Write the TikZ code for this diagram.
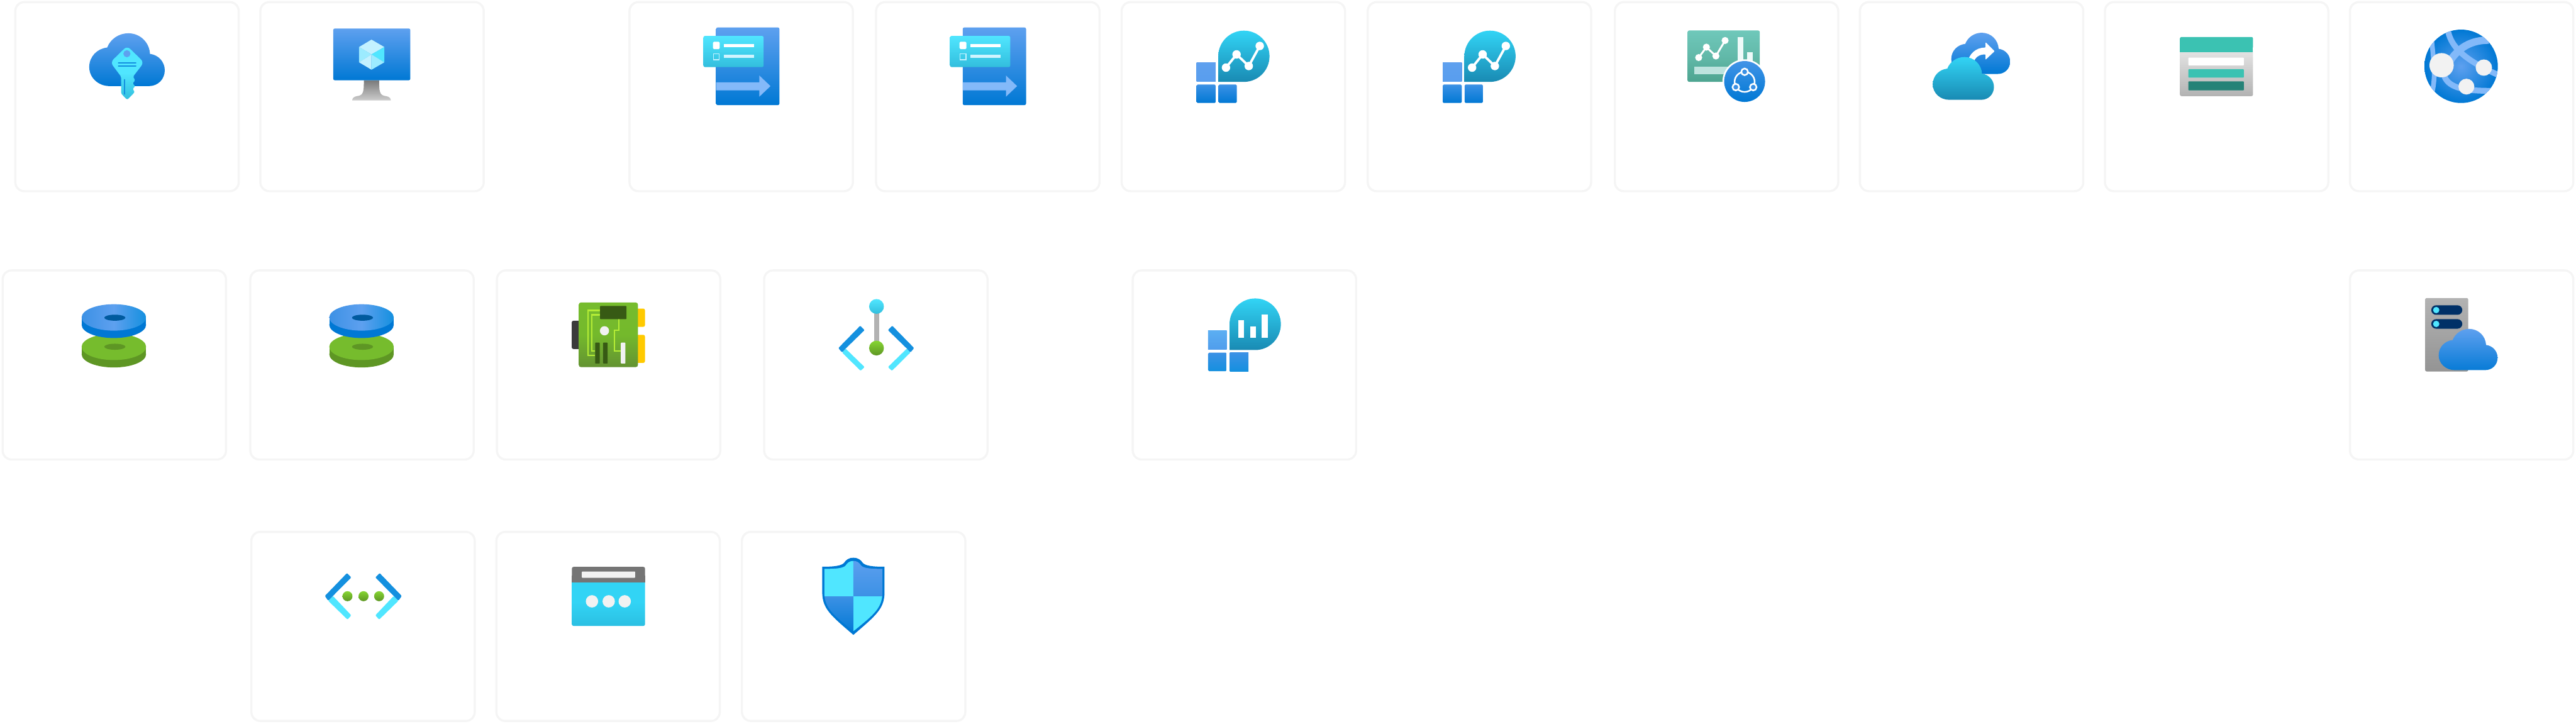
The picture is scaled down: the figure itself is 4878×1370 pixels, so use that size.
\documentclass[tikz,border=0pt]{standalone}
\usepackage{tikz}
\usetikzlibrary{positioning}
\definecolor{cardline}{HTML}{F5F5F5}
\definecolor{azsky}{HTML}{5EA0EF}
\definecolor{azmid}{HTML}{3C91E5}
\definecolor{azdeep}{HTML}{0078D4}
\definecolor{azink}{HTML}{1490DF}
\definecolor{azcyan}{HTML}{50E6FF}
\definecolor{azaqua}{HTML}{32D4F5}
\definecolor{azlake}{HTML}{32BEDD}
\definecolor{azteal}{HTML}{198AB3}
\definecolor{azarrow}{HTML}{83B9F9}
\definecolor{azpale}{HTML}{C3F1FF}
\definecolor{azglass}{HTML}{9CEBFF}
\definecolor{mint}{HTML}{3BC2B2}
\definecolor{pine}{HTML}{258277}
\definecolor{sagetop}{HTML}{6FC8BA}
\definecolor{sagemid}{HTML}{62B9A9}
\definecolor{sagelow}{HTML}{4DA490}
\definecolor{sagebar}{HTML}{BDE3DE}
\definecolor{leaf}{HTML}{76BC2D}
\definecolor{moss}{HTML}{5E9624}
\definecolor{lime}{HTML}{86D633}
\definecolor{bark}{HTML}{375A14}
\definecolor{trace}{HTML}{B4EC36}
\definecolor{sun}{HTML}{FFCA00}
\definecolor{offwhite}{HTML}{F2F2F2}
\definecolor{navy}{HTML}{003067}
\tikzset{
  card/.style={rectangle,rounded corners=1.7mm,minimum width=42.3mm,minimum height=35.8mm,
    inner sep=0pt,draw=cardline,fill=white,line width=0.4mm},
  cloudshape/.style={insert path={(39,100) .. controls (17,100) and (0,84) .. (0,64)
    .. controls (0,44) and (15,29) .. (34,27) .. controls (40,11) and (56,0) .. (74,0)
    .. controls (97,0) and (114,18) .. (115,39) .. controls (131,41) and (143,54) .. (143,70)
    .. controls (143,87) and (130,100) .. (113,100) -- cycle}},
  skyfade/.style={top color=azsky,bottom color=azdeep},
  lakefade/.style={top color=azaqua,bottom color=azteal},
  limefade/.style={top color=lime,bottom color=moss},
  keycloud/.pic={
    \shade[shift={(142,61)},skyfade,cloudshape];
    \shade[top color=azcyan,bottom color=azlake,middle color=azcyan,rounded corners=0.8mm]
      (213.7,85) -- (182,116) [rounded corners=0.2mm] -- (202.3,143) -- (202.3,175) -- (213.7,187)
      -- (228.3,172.3) -- (224,166.3) -- (229,161.3) -- (224,155.7) -- (229,150.3)
      -- (225,143) [rounded corners=0.8mm] -- (245.7,116) -- cycle;
    \fill[azsky] (213.3,99.7) circle[radius=6.7];
    \draw[azink,line width=0.3mm,line cap=round] (197.5,117) -- (230,117);
    \draw[azink,line width=0.3mm,line cap=round] (197.5,123) -- (230,123);
    \draw[azink,line width=0.3mm,line cap=round] (208.7,149) -- (208.7,176);
  },
  monitor/.pic={
    \shade[top color=black!52,bottom color=black!20]
      (198,150) .. controls (198,170) and (198,179) .. (185,180) .. controls (179,181) and (176,184) .. (176,188)
      -- (249,188) .. controls (249,184) and (246,181) .. (240,180) .. controls (227,179) and (227,170) .. (227,150) -- cycle;
    \shade[skyfade,rounded corners=0.3mm] (140,52) rectangle (286,150);
    \fill[azpale] (212.5,73) -- (236.7,87) -- (212.5,101) -- (189,87) -- cycle;
    \fill[azglass] (189,87) -- (212.5,101) -- (189,116) -- cycle;
    \fill[azcyan] (236.7,87) -- (212.5,101) -- (236.7,116) -- cycle;
    \fill[azpale] (189,116) -- (212.5,101) -- (212.5,130) -- cycle;
    \fill[azglass] (212.5,101) -- (236.7,116) -- (212.5,130) -- cycle;
  },
  migrate/.pic={
    \shade[skyfade,rounded corners=0.3mm] (166,50) rectangle (286,197);
    \fill[azarrow] (166,154) -- (248,154) -- (248,141) -- (269,161) -- (248,181) -- (248,169) -- (166,169) -- cycle;
    \shade[top color=azcyan,bottom color=azlake,rounded corners=0.3mm] (142,66) rectangle (256,125);
    \fill[white,rounded corners=0.2mm] (160,77) rectangle (173,91);
    \fill[white] (181,81) rectangle (238,87);
    \draw[azpale,line width=0.15mm] (160.8,99.8) rectangle (172.2,111.2);
    \fill[azpale!80!white] (181,102) rectangle (238,108);
  },
  insight/.pic={
    \shade[lakefade] (185,153) -- (185,104.5) .. controls (185,77.7) and (206.7,56) .. (233.5,56)
      .. controls (260.3,56) and (282,77.7) .. (282,104.5) .. controls (282,131.3) and (260.3,153) .. (233.5,153) -- cycle;
    \shade[top color=azsky,bottom color=azsky!85!azmid] (144,116) rectangle (180,152);
    \shade[top color=azmid,bottom color=azdeep,rounded corners=0.2mm] (144,158) rectangle (180,193);
    \shade[top color=azmid,bottom color=azdeep,rounded corners=0.2mm] (185.5,158) rectangle (220,193);
    \draw[white,line width=0.45mm] (199.6,126) -- (219.6,101) -- (242.7,123) -- (263.5,85);
    \foreach \px/\py in {199.6/126,219.6/101,242.7/123,263.5/85}
      \fill[white] (\px,\py) circle[radius=8];
  },
  dashpanel/.pic={
    \shade[top color=sagetop,bottom color=sagelow,middle color=sagemid,rounded corners=0.3mm]
      (139.7,55.7) rectangle (276.3,153);
    \fill[sagebar] (152,124.3) rectangle (225,138.7);
    \fill[white!92!mint] (234.3,68) rectangle (245.7,113);
    \fill[white!92!mint] (252,97) rectangle (263.3,113);
    \draw[white,line width=0.35mm] (160.7,107) -- (175.3,87.3) -- (193.3,104) -- (210.7,74.7);
    \foreach \px/\py in {160.7/107,175.3/87.3,193.3/104,210.7/74.7}
      \fill[white] (\px,\py) circle[radius=6.7];
    \fill[white] (247.7,152.3) circle[radius=42];
    \shade[top color=azmid!85!azsky,bottom color=azdeep] (247.7,152.3) circle[radius=38.7];
    \draw[white,line width=0.3mm] (247.7,153) circle[radius=19];
    \foreach \px/\py in {247.7/134,231/163,264/163}
      \filldraw[draw=white,fill=azmid,line width=0.3mm] (\px,\py) circle[radius=6.3];
  },
  backupcloud/.pic={
    \shade[shift={(175,60)},scale=0.78,skyfade,cloudshape];
    \fill[white,rounded corners=0.1mm] (240,78) -- (257,95) -- (240,111) -- (240,101)
      .. controls (228,101) and (220,106) .. (217,118) -- (206,118)
      .. controls (208,100) and (222,88) .. (240,88) -- cycle;
    \shade[shift={(140,106)},scale=0.81,lakefade,cloudshape];
  },
  storage/.pic={
    \shade[top color=black!10,bottom color=black!30,rounded corners=0.3mm] (144,90) rectangle (282.4,180);
    \fill[mint,rounded corners=0.3mm] (144,68) rectangle (282.4,90);
    \fill[mint] (144,85) rectangle (282.4,97);
    \fill[white,rounded corners=0.1mm] (160,107) rectangle (265,122);
    \fill[mint,rounded corners=0.1mm] (160,129) rectangle (265,145);
    \fill[pine,rounded corners=0.1mm] (160,152) rectangle (265,169);
  },
  webglobe/.pic={
    \shade[inner color=azsky,outer color=azdeep] (212.5,123.5) circle[radius=69.5];
    \begin{scope}
      \clip (212.5,123.5) circle[radius=69.5];
      \draw[azarrow,line width=1.1mm] (188,58) .. controls (194,85) and (215,110) .. (283,140);
      \draw[azarrow,line width=1.4mm] (265,74) .. controls (235,74) and (205,85) .. (185,125);
      \draw[azarrow,line width=0.9mm] (157,76) .. controls (160,110) and (163,130) .. (161,150) .. controls (160,165) and (157,175) .. (155,185);
      \draw[azarrow,line width=1.1mm] (181,143) .. controls (190,165) and (220,170) .. (270,170);
    \end{scope}
    \fill[offwhite] (175.5,121.5) circle[radius=23];
    \fill[offwhite] (255.5,126) circle[radius=15.5];
    \fill[offwhite] (222.5,162) circle[radius=15];
  },
  diskpair/.pic={
    \fill[moss] (151.6,146.7) rectangle (273.6,160.7);
    \fill[moss] (212.6,160.7) ellipse[x radius=61,y radius=25];
    \fill[leaf] (212.6,146.7) ellipse[x radius=61,y radius=25];
    \fill[moss] (214.5,146.5) ellipse[x radius=20,y radius=5.7];
    \fill[azdeep] (151.6,91) rectangle (273.6,105);
    \fill[azdeep] (212.6,105) ellipse[x radius=61,y radius=25];
    \shade[left color=azmid,right color=azink,middle color=azsky] (212.6,91) ellipse[x radius=61,y radius=25];
    \fill[azdeep!75!black] (214.5,91.5) ellipse[x radius=20,y radius=5.7];
  },
  gpucard/.pic={
    \fill[black!77,rounded corners=0.3mm] (143.7,97.3) rectangle (160,150.7);
    \fill[sun,rounded corners=0.3mm] (265,74.3) rectangle (282.3,108.7);
    \fill[sun,rounded corners=0.3mm] (265,124) rectangle (282.3,177);
    \shade[top color=leaf,bottom color=moss!85!gray,middle color=leaf!92!moss,rounded corners=0.4mm] (157,62.7) rectangle (269,185);
    \draw[trace,line width=0.25mm] (197.3,77.7) -- (174.7,77.7) -- (174.7,163) -- (188,163);
    \draw[trace,line width=0.25mm] (197.3,86) -- (182,86) -- (182,154) -- (188,154);
    \draw[trace,line width=0.25mm] (233.3,94.3) -- (233.3,115.3) -- (224.7,115.3) -- (224.7,155) -- (236.7,155);
    \fill[bark,rounded corners=0.1mm] (197.3,69.3) rectangle (247.3,94.3);
    \fill[offwhite] (205.7,116.3) circle[radius=8.7];
    \fill[bark,rounded corners=0.1mm] (188,138.7) rectangle (196.7,178.3);
    \fill[bark,rounded corners=0.1mm] (203,138.7) rectangle (211.7,178.3);
    \fill[offwhite,rounded corners=0.1mm] (236.7,138.7) rectangle (245.3,178.3);
  },
  linkpin/.pic={
    \fill[azcyan,rounded corners=0.15mm] (156.3,150) -- (192.2,185) -- (184.6,192) -- (149.5,157.3) -- cycle;
    \fill[azcyan,rounded corners=0.15mm] (272.3,150) -- (236.4,185) -- (244,192) -- (279.1,157.3) -- cycle;
    \fill[azink,rounded corners=0.15mm] (184,106.7) -- (192.2,115) -- (156.3,150) -- (149.5,157.3) -- (142.5,149) -- cycle;
    \fill[azink,rounded corners=0.15mm] (244.6,106.7) -- (236.4,115) -- (272.3,150) -- (279.1,157.3) -- (286,149) -- cycle;
    \fill[black!30] (209.8,82) rectangle (219.8,138);
    \shade[top color=azcyan,bottom color=azlake] (214.8,70.2) circle[radius=14];
    \shade[limefade] (214.8,149) circle[radius=14];
  },
  barinsight/.pic={
    \shade[lakefade] (185.3,152.7) -- (185.3,103.7) .. controls (185.3,76.8) and (207.1,55) .. (234,55)
      .. controls (260.9,55) and (282.5,76.8) .. (282.5,103.7) .. controls (282.5,130.6) and (260.9,152.7) .. (234,152.7) -- cycle;
    \shade[top color=azsky!80!azcyan,bottom color=azsky!80!azink] (144.7,116) rectangle (180,152);
    \shade[top color=azmid,bottom color=azink,rounded corners=0.2mm] (144.7,157.7) rectangle (180,192.7);
    \shade[top color=azmid,bottom color=azink] (186,157.7) rectangle (221,192.7);
    \fill[white] (202.1,96.7) rectangle (212.9,130);
    \fill[white] (224.3,107.7) rectangle (235,130);
    \fill[white] (246.5,85.7) rectangle (258,130);
  },
  hostcloud/.pic={
    \shade[top color=black!30,bottom color=black!42,rounded corners=0.3mm] (144.3,54.3) rectangle (226,193.3);
    \fill[navy,rounded corners=0.9mm] (156,68) rectangle (214.7,86);
    \fill[navy,rounded corners=0.9mm] (156,94.3) rectangle (214.7,112.3);
    \fill[azcyan] (165.3,77) circle[radius=6];
    \fill[azcyan] (165.3,103.3) circle[radius=6];
    \shade[shift={(170,112.7)},scale=0.78,top color=azsky,bottom color=azdeep!92!azsky,cloudshape];
  },
  peerlink/.pic={
    \fill[azcyan,rounded corners=0.15mm] (156.4,123.3) -- (191.2,160) -- (184,168) -- (147.4,132.3) -- cycle;
    \fill[azcyan,rounded corners=0.15mm] (271.6,123.3) -- (236.8,160) -- (244,168) -- (280.6,132.3) -- cycle;
    \fill[azink,rounded corners=0.15mm] (183.1,80) -- (191.2,88.3) -- (156.4,123.3) -- (147.4,132.3) -- (141.2,123.3) -- cycle;
    \fill[azink,rounded corners=0.15mm] (244.9,80) -- (236.8,88.3) -- (271.6,123.3) -- (280.6,132.3) -- (286.8,123.3) -- cycle;
    \foreach \px in {184,214.4,243.9}
      \shade[limefade] (\px,123.8) circle[radius=9.5];
  },
  gateway/.pic={
    \shade[top color=azaqua,bottom color=azaqua!72!azteal,middle color=azaqua,rounded corners=0.3mm] (145,90) rectangle (283.4,180);
    \fill[black!54,rounded corners=0.3mm] (145,68.3) rectangle (283.4,90);
    \fill[black!54] (145,85) rectangle (283.4,97.3);
    \fill[offwhite,rounded corners=0.1mm] (163.8,77) rectangle (264.7,89);
    \foreach \px in {183,214.7,245}
      \fill[offwhite] (\px,133.5) circle[radius=11.7];
  },
  shieldmark/.pic={
    \fill[azdeep] (213,51) .. controls (204,51) and (199,55) .. (195,61) .. controls (190,66) and (178,68) .. (154,68)
      -- (154,118) .. controls (155,148) and (170,160) .. (213,197)
      .. controls (256,160) and (271,148) .. (272,118) -- (272,68)
      .. controls (248,68) and (236,66) .. (231,61) .. controls (227,55) and (222,51) .. (213,51) -- cycle;
    \begin{scope}
      \clip (213,57) .. controls (206,57) and (202,60) .. (198,66) .. controls (193,71) and (180,72) .. (158,72)
        -- (158,118) .. controls (159,146) and (173,158) .. (213,190)
        .. controls (253,158) and (267,146) .. (268,118) -- (268,72)
        .. controls (246,72) and (233,71) .. (228,66) .. controls (224,60) and (220,57) .. (213,57) -- cycle;
      \fill[azcyan] (150,50) rectangle (213,124);
      \shade[top color=azsky,bottom color=azmid] (213,50) rectangle (276,124);
      \shade[top color=azmid,bottom color=azdeep] (150,124) rectangle (213,195);
      \fill[azcyan] (213,124) rectangle (276,195);
    \end{scope}
  },
}
\begin{document}
\begin{tikzpicture}[x=0.1mm,y=-0.1mm,node distance=3.7mm]
  \useasboundingbox (0,0) rectangle (4878,1370);
  \fill[white] (0,0) rectangle (4878,1370);
  \node[card,anchor=north west] at (27,2) (vault) {};
  \node[card,right=3.7mm of vault] (desktop) {};
  \node[card,right=27.2mm of desktop] (migrateA) {};
  \node[card,right=4mm of migrateA] (migrateB) {};
  \node[card,right=3.8mm of migrateB] (insightA) {};
  \node[card,right=3.9mm of insightA] (insightB) {};
  \node[card,right=4.1mm of insightB] (panel) {};
  \node[card,right=of panel] (backup) {};
  \node[card,right=of backup] (store) {};
  \node[card,right=of store] (webapp) {};
  \node[card,anchor=north west] at (3,510) (diskA) {};
  \node[card,right=4.2mm of diskA] (diskB) {};
  \node[card,right=4mm of diskB] (gpu) {};
  \node[card,right=7.9mm of gpu] (link) {};
  \node[card,right=27.1mm of link] (barchart) {};
  \node[card,below=14.6mm of webapp] (host) {};
  \node[card,anchor=north west] at (474,1005) (peer) {};
  \node[card,right=of peer] (gate) {};
  \node[card,right=3.8mm of gate] (shield) {};
  \pic at (vault.north west) {keycloud};
  \pic at (desktop.north west) {monitor};
  \pic at (migrateA.north west) {migrate};
  \pic at (migrateB.north west) {migrate};
  \pic at (insightA.north west) {insight};
  \pic at (insightB.north west) {insight};
  \pic at (panel.north west) {dashpanel};
  \pic at (backup.north west) {backupcloud};
  \pic at (store.north west) {storage};
  \pic at (webapp.north west) {webglobe};
  \pic at (diskA.north west) {diskpair};
  \pic at (diskB.north west) {diskpair};
  \pic at (gpu.north west) {gpucard};
  \pic at (link.north west) {linkpin};
  \pic at (barchart.north west) {barinsight};
  \pic at (host.north west) {hostcloud};
  \pic at (peer.north west) {peerlink};
  \pic at (gate.north west) {gateway};
  \pic at (shield.north west) {shieldmark};
\end{tikzpicture}
\end{document}
